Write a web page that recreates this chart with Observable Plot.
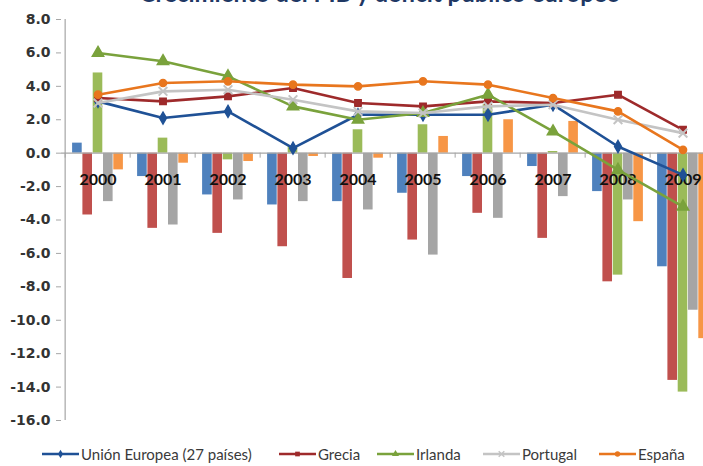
<!DOCTYPE html>
<html>
<head>
<meta charset="utf-8">
<script src="https://cdn.jsdelivr.net/npm/d3@7"></script>
<script src="https://cdn.jsdelivr.net/npm/@observablehq/plot@0.6"></script>
<style>
  html, body { margin: 0; padding: 0; background: #fff; overflow: hidden; }
  #wrap { position: relative; width: 703px; height: 466px; overflow: hidden; }
  #title { position: absolute; top: -20px; left: 0; width: 760px; text-align: center;
    font: bold 24px Lato, sans-serif; color: #1F3864; line-height: 26px; white-space: nowrap; }
  #chart svg { display: block; overflow: hidden; }
  #legend { position: relative; height: 26px; font: 15px Lato, sans-serif; color: #3a3a3a; }
  .item { position: absolute; top: 2px; display: flex; align-items: center; height: 24px; white-space: nowrap; }
  .item svg { margin-right: 2px; }
</style>
</head>
<body>
<div id="wrap">
  <div id="chart"></div>
  <div id="legend"></div>
  <div id="title">Crecimiento del PIB y déficit público europeo</div>
</div>
<script>
// ---- Data ----
const years = ["2000","2001","2002","2003","2004","2005","2006","2007","2008","2009"];
const seriesNames = ["Unión Europea (27 países)", "Grecia", "Irlanda", "Portugal", "España"];

// Line series (crecimiento)
const ueLine       = [3.1, 2.1, 2.5, 0.3, 2.3, 2.3, 2.3, 2.9, 0.4, -1.3];
const greciaLine   = [3.3, 3.1, 3.4, 3.9, 3.0, 2.8, 3.1, 3.0, 3.5, 1.4];
const irlandaLine  = [6.0, 5.5, 4.6, 2.8, 2.0, 2.4, 3.5, 1.3, -1.0, -3.2];
const portugalLine = [3.0, 3.7, 3.8, 3.2, 2.5, 2.4, 2.8, 2.9, 2.0, 1.2];
const espanaLine   = [3.5, 4.2, 4.3, 4.1, 4.0, 4.3, 4.1, 3.3, 2.5, 0.2];

// Bar series (déficit / superávit)
const ueBar        = [0.6, -1.4, -2.5, -3.1, -2.9, -2.4, -1.4, -0.8, -2.3, -6.8];
const greciaBar    = [-3.7, -4.5, -4.8, -5.6, -7.5, -5.2, -3.6, -5.1, -7.7, -13.6];
const irlandaBar   = [4.8, 0.9, -0.4, 0.4, 1.4, 1.7, 2.9, 0.1, -7.3, -14.3];
const portugalBar  = [-2.9, -4.3, -2.8, -2.9, -3.4, -6.1, -3.9, -2.6, -2.8, -9.4];
const espanaBar    = [-1.0, -0.6, -0.5, -0.2, -0.3, 1.0, 2.0, 1.9, -4.1, -11.1];

const yTicks = [-16, -14, -12, -10, -8, -6, -4, -2, 0, 2, 4, 6, 8];

// ---- Styles ----
const lineVals = [ueLine, greciaLine, irlandaLine, portugalLine, espanaLine];
const barVals  = [ueBar, greciaBar, irlandaBar, portugalBar, espanaBar];
const barColors  = ["#4F81BD", "#C0504D", "#9BBB59", "#A5A5A5", "#F79646"];
const lineColors = ["#1F5196", "#9E2A2B", "#7AA23C", "#C4C4C4", "#E8761E"];
const symbols    = ["diamond", "square", "triangle", "times", "circle"];

const W = 703, H = 440;
const mL = 61, mR = -15, mT = 19, mB = 20;
const bw = (W - mL - mR) / years.length;
const barW = 10.3;
const pad = (bw - 5 * barW) / 2;
const axisGray = "#A6A6A6";

const toRows = arr => years.map((year, i) => ({year, value: arr[i]}));

const marks = [];
// Bars
barVals.forEach((vals, k) => {
  marks.push(Plot.barY(toRows(vals), {
    x: "year", y1: () => 0, y2: "value", fill: barColors[k],
    insetLeft: pad + k * barW, insetRight: bw - pad - (k + 1) * barW
  }));
});
// Zero line and axis line
marks.push(Plot.ruleY([0], {stroke: axisGray, strokeWidth: 1.2}));
marks.push(Plot.ruleX([years[0]], {x: d => d, dx: -bw / 2, y1: () => yTicks[0], y2: () => yTicks[yTicks.length - 1], stroke: axisGray, strokeWidth: 1.2}));
marks.push(Plot.ruleX(years, {x: d => d, dx: -bw / 2, y1: () => 0, y2: () => 0, insetBottom: -5, stroke: axisGray}));
marks.push(Plot.axisY({
  ticks: yTicks, tickFormat: d => d.toFixed(1), tickSize: 5, tickPadding: 6,
  stroke: axisGray, fill: "#333", fontSize: 14, fontWeight: "bold", fontFamily: "DejaVu Sans", label: null
}));
// Year labels
marks.push(Plot.text(years, {x: d => d, y: () => 0, dy: 27, text: d => d,
  fontSize: 16, fontWeight: "bold", fontFamily: "Lato", fill: "#111"}));
// Lines + markers
lineVals.forEach((vals, k) => {
  const rows = toRows(vals);
  marks.push(Plot.lineY(rows, {x: "year", y: "value", stroke: lineColors[k], strokeWidth: 2.6}));
  if (symbols[k] === "times") {
    marks.push(Plot.dot(rows, {x: "year", y: "value", symbol: "times", stroke: lineColors[k], strokeWidth: 2, r: 4}));
  } else {
    marks.push(Plot.dot(rows, {x: "year", y: "value", symbol: symbols[k], fill: lineColors[k], stroke: lineColors[k], r: symbols[k] === "triangle" ? 4.2 : 3.6}));
  }
});

const chart = Plot.plot({
  width: W, height: H,
  marginLeft: mL, marginRight: mR, marginTop: mT, marginBottom: mB,
  style: {background: "white", overflow: "hidden"},
  x: {type: "band", domain: years, padding: 0, axis: null},
  y: {domain: [yTicks[0], yTicks[yTicks.length - 1]], axis: null},
  marks
});
document.getElementById("chart").appendChild(chart);

// Legend
const legendLefts = [42, 279, 377, 483, 599];
const legend = document.getElementById("legend");
seriesNames.forEach((name, k) => {
  const item = document.createElement("div");
  item.className = "item";
  item.style.left = legendLefts[k] + "px";
  const sw = d3.create("svg").attr("width", 37).attr("height", 12);
  sw.append("line").attr("x1", 0).attr("x2", 37).attr("y1", 6).attr("y2", 6)
    .attr("stroke", lineColors[k]).attr("stroke-width", 2.6);
  const sym = d3.symbol().type({
    diamond: d3.symbolDiamond, square: d3.symbolSquare, triangle: d3.symbolTriangle,
    times: d3.symbolTimes, circle: d3.symbolCircle
  }[symbols[k]]).size(22);
  const p = sw.append("path").attr("d", sym()).attr("transform", "translate(18.5,6)");
  if (symbols[k] === "times") p.attr("fill", "none").attr("stroke", lineColors[k]).attr("stroke-width", 1.5);
  else p.attr("fill", lineColors[k]);
  item.appendChild(sw.node());
  const t = document.createElement("span");
  t.textContent = name;
  item.appendChild(t);
  legend.appendChild(item);
});
</script>
</body>
</html>
